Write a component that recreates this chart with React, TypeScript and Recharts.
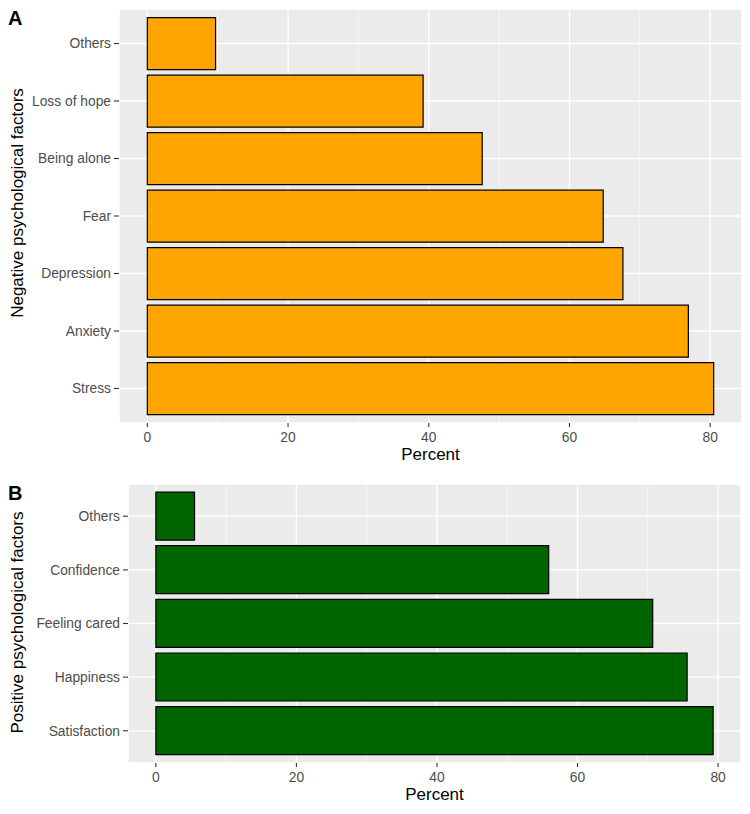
import { BarChart, Bar, XAxis, YAxis, CartesianGrid } from 'recharts';

const negCategories = ['Others', 'Loss of hope', 'Being alone', 'Fear', 'Depression', 'Anxiety', 'Stress'];
const negValues = [9.7, 39.2, 47.6, 64.8, 67.6, 76.9, 80.5];

const posCategories = ['Others', 'Confidence', 'Feeling cared', 'Happiness', 'Satisfaction'];
const posValues = [5.5, 55.9, 70.7, 75.6, 79.3];

const majorTicks = [0, 20, 40, 60, 80];
const minorTicks = [10, 30, 50, 70];

const FONT = '"Liberation Sans", Arial, Helvetica, sans-serif';

interface PanelProps {
  categories: string[];
  values: number[];
  fill: string;
  letter: string;
  yTitle: string;
  titleY: number;
  top: number;
  height: number;
  marginTop: number;
  axisWidth: number;
  marginRight: number;
  catPad: number;
  bottomSpace: number;
}

function Panel(p: PanelProps) {
  const data = p.categories.map((name, i) => ({ name, value: p.values[i] }));
  const max = Math.max(...p.values);
  // ggplot-style 5% expansion around the data range
  const domain = [-0.05 * max, max * 1.05];

  return (
    <div style={{ position: 'absolute', left: 0, top: p.top, width: 750, height: p.height }}>
      <BarChart
        width={750}
        height={p.height}
        data={data}
        layout="vertical"
        barCategoryGap="5%"
        margin={{ top: p.marginTop, right: p.marginRight, bottom: p.bottomSpace - 37, left: 0 }}
        style={{ fontFamily: FONT }}
      >
        <XAxis xAxisId="minor" type="number" domain={domain} ticks={minorTicks} hide allowDataOverflow />
        <CartesianGrid xAxisId="minor" horizontal={false} stroke="#ffffff" strokeWidth={0.6} fill="#EBEBEB" />
        <CartesianGrid stroke="#ffffff" strokeWidth={1.3} />
        <XAxis
          type="number"
          domain={domain}
          ticks={majorTicks}
          allowDataOverflow
          axisLine={false}
          tickSize={4}
          tickMargin={5}
          tickLine={{ stroke: '#333333', strokeWidth: 1.1 }}
          tick={{ fill: '#4D4D4D', fontSize: 13.8 }}
          height={37}
          label={{ value: 'Percent', position: 'insideBottom', offset: 0, style: { fill: '#000', fontSize: 17 } }}
        />
        <YAxis
          type="category"
          dataKey="name"
          width={p.axisWidth}
          axisLine={false}
          tickSize={5}
          tickMargin={3}
          padding={{ top: p.catPad, bottom: p.catPad }}
          tickLine={{ stroke: '#333333', strokeWidth: 1.1 }}
          tick={{ fill: '#4D4D4D', fontSize: 13.8 }}
          interval={0}
        />
        <Bar dataKey="value" fill={p.fill} stroke="#000000" strokeWidth={1.2} isAnimationActive={false} />
      </BarChart>
      <svg style={{ position: 'absolute', left: 0, top: 0, pointerEvents: 'none' }} width={750} height={p.height}>
        <text x={8} y={p.marginTop + 16} fontFamily={FONT} fontWeight="bold" fontSize={20} fill="#000">
          {p.letter}
        </text>
        <text
          transform={`translate(17, ${p.titleY}) rotate(-90)`}
          textAnchor="middle"
          dominantBaseline="central"
          fontFamily={FONT}
          fontSize={17}
          fill="#000"
        >
          {p.yTitle}
        </text>
      </svg>
    </div>
  );
}

export default function App() {
  return (
    <div style={{ position: 'absolute', left: 0, top: 0, width: 750, height: 814, background: '#fff' }}>
      <Panel
        categories={negCategories}
        values={negValues}
        fill="#FFA500"
        letter="A"
        yTitle="Negative psychological factors"
        titleY={203}
        top={0}
        height={470}
        marginTop={9}
        axisWidth={119}
        marginRight={8}
        catPad={5.75}
        bottomSpace={47}
      />
      <Panel
        categories={posCategories}
        values={posValues}
        fill="#006400"
        letter="B"
        yTitle="Positive psychological factors"
        titleY={152.5}
        top={470}
        height={344}
        marginTop={14}
        axisWidth={128}
        marginRight={9}
        catPad={5.4}
        bottomSpace={51}
      />
    </div>
  );
}
